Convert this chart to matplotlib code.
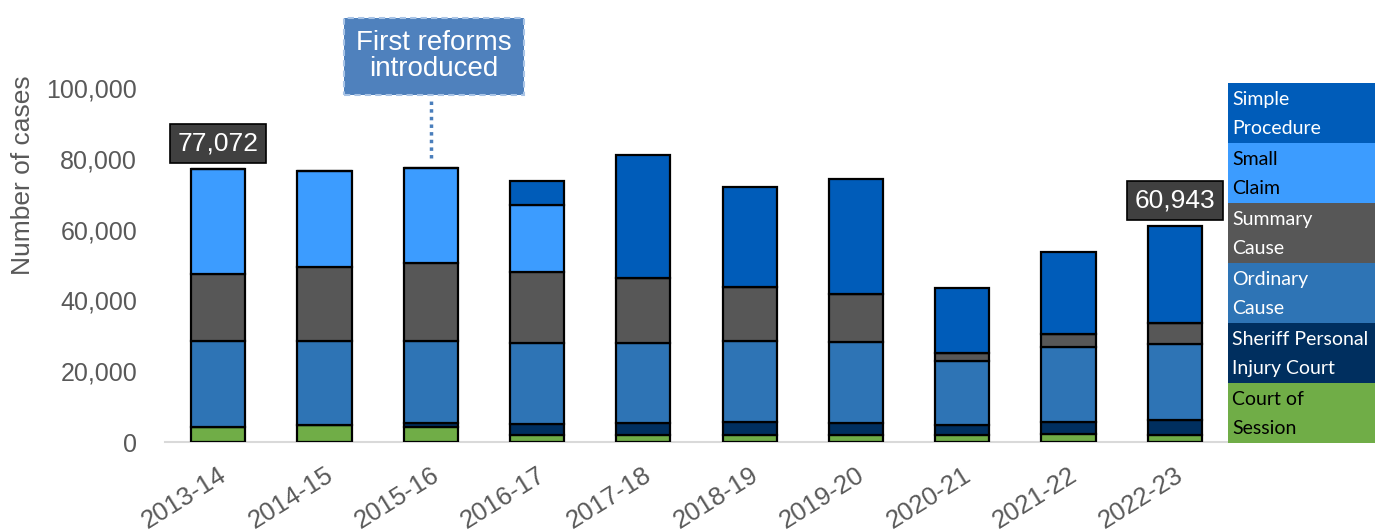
import numpy as np
import matplotlib.pyplot as plt
from matplotlib.patches import Rectangle

years = ['2013-14', '2014-15', '2015-16', '2016-17', '2017-18',
         '2018-19', '2019-20', '2020-21', '2021-22', '2022-23']

court_of_session = [4300, 4900, 4200, 2100, 2100, 2100, 1900, 1900, 2300, 1900]
sheriff_pi = [0, 0, 1200, 3000, 3200, 3500, 3400, 2900, 3300, 4300]
ordinary = [24100, 23700, 23000, 22800, 22800, 22800, 22900, 18200, 21100, 21400]
summary = [19000, 20700, 22100, 20000, 18200, 15400, 13700, 2200, 3800, 6100]
small_claim = [29672, 27300, 27000, 19000, 0, 0, 0, 0, 0, 0]
simple = [0, 0, 0, 6700, 34900, 28200, 32500, 18400, 23300, 27243]

series = [
    ('Court of\nSession', court_of_session, '#70ad47', 'black'),
    ('Sheriff Personal\nInjury Court', sheriff_pi, '#002f5f', 'white'),
    ('Ordinary\nCause', ordinary, '#2e74b5', 'white'),
    ('Summary\nCause', summary, '#575757', 'white'),
    ('Small\nClaim', small_claim, '#3c9cff', 'black'),
    ('Simple\nProcedure', simple, '#005cb9', 'white'),
]

plt.rcParams['font.family'] = ['Liberation Sans', 'DejaVu Sans']
grey = '#595959'

fig = plt.figure(figsize=(13.75, 5.31), dpi=100)
ax = fig.add_axes([165/1375, 1-442/531, (1228-165)/1375, (442-88)/531])

x = np.arange(len(years))
bottom = np.zeros(len(years))
for name, vals, col, tc in series:
    v = np.array(vals, dtype=float)
    ax.bar(x, v, 0.51, bottom=bottom, color=col, edgecolor='black', linewidth=1.6, zorder=3)
    bottom += v

ax.set_xlim(-0.5, len(years) - 0.5)
ax.set_ylim(0, 100000)
ax.set_yticks(np.arange(0, 100001, 20000))
ax.set_yticklabels([f'{t:,}' for t in range(0, 100001, 20000)])
ax.set_xticks(x)
ax.set_xticklabels(years, rotation=32, ha='right', va='top', rotation_mode='anchor')
for s in ['top', 'right', 'left']:
    ax.spines[s].set_visible(False)
ax.spines['bottom'].set_color('#d9d9d9')
ax.spines['bottom'].set_linewidth(1.5)
ax.tick_params(axis='y', length=0, pad=20, labelsize=18, labelcolor=grey)
ax.tick_params(axis='x', length=0, pad=15, labelsize=18.5, labelcolor=grey)
ax.set_ylabel('Number of cases', fontsize=19, color=grey)
ax.yaxis.set_label_coords(-0.122, 0.755)

# total labels for first and last year
for i in [0, len(years) - 1]:
    ax.annotate(f'{int(bottom[i]):,}', xy=(i, bottom[i]), xytext=(0, 10),
                textcoords='offset points', ha='center', va='bottom',
                fontsize=19, color='white', annotation_clip=False,
                bbox=dict(boxstyle='square,pad=0.28', fc='#404040', ec='black', lw=1.2))

# reform annotation
ax.plot([2, 2], [80300, 97500], color='#4a7ebb', linestyle=(0, (1, 1.2)),
        linewidth=2.5, clip_on=False, zorder=4)
ax.text(2.03, 109000, 'First reforms\nintroduced', ha='center', va='center',
        fontsize=20, color='white', linespacing=1.0, clip_on=False,
        bbox=dict(boxstyle='square,pad=0.45', fc='#4f81bd', ec='#a9c4e6',
                  lw=1.5, ls=(0, (3, 2))))

# legend as coloured table on the right
top_px = 83
h_px = 60
for k, (name, vals, col, tc) in enumerate(reversed(series)):
    y0 = top_px + k * h_px
    fig.add_artist(Rectangle((1228/1375, 1-(y0+h_px)/531), (1375-1228)/1375, h_px/531,
                             transform=fig.transFigure, color=col, lw=0))
    fig.text(1232/1375, 1-(y0+h_px/2+1)/531, name, ha='left', va='center',
             fontsize=14, color=tc, linespacing=1.85, family=['Lato', 'DejaVu Sans'])

fig.savefig('out.png', dpi=100)
